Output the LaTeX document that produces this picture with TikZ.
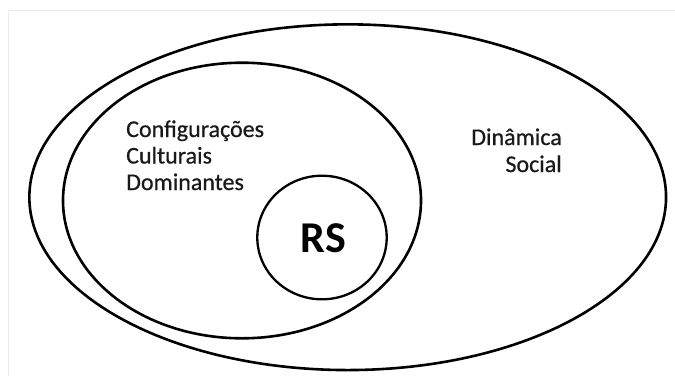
\documentclass[tikz,border=0pt]{standalone}
\usepackage{fontspec}
\setmainfont{Carlito}
\usetikzlibrary{shapes.geometric}
\begin{document}
\begin{tikzpicture}[x=1pt,y=-1pt,
  ring/.style={draw=black, line width=2.6pt, ellipse, inner sep=0pt, outer sep=0pt},
  lbl/.style={inner sep=0pt, text=black!90, font=\fontsize{24}{27}\selectfont\addfontfeature{FakeBold=0.6}}]
\useasboundingbox (0,0) rectangle (675,376);
\fill[white] (0,0) rectangle (675,376);
\draw[black!8, line width=0.8pt] (8.3,376) -- (8.3,10) -- (675,10);
\node[ring, minimum width=636.7pt, minimum height=345.7pt] (social) at (347.7,197.2) {};
\node[ring, minimum width=358pt, minimum height=275.6pt] (cultura) at (242,200.5) {};
\node[ring, line width=2.3pt, minimum width=129.4pt, minimum height=123.6pt] (rs) at (322,237.5) {};
\node[inner sep=0pt, anchor=base, font=\fontsize{44}{50}\selectfont\bfseries] (rstext) at (323.5,252) {RS};
\node[lbl, anchor=base west] (c1) at (126,137) {Configurações};
\node[lbl, anchor=base west] (c2) at (126,163.5) {Culturais};
\node[lbl, anchor=base west] (c3) at (126,190) {Dominantes};
\node[lbl, anchor=base east] (d1) at (562,145) {Dinâmica};
\node[lbl, anchor=base east] (d2) at (562,172) {Social};
\end{tikzpicture}
\end{document}
